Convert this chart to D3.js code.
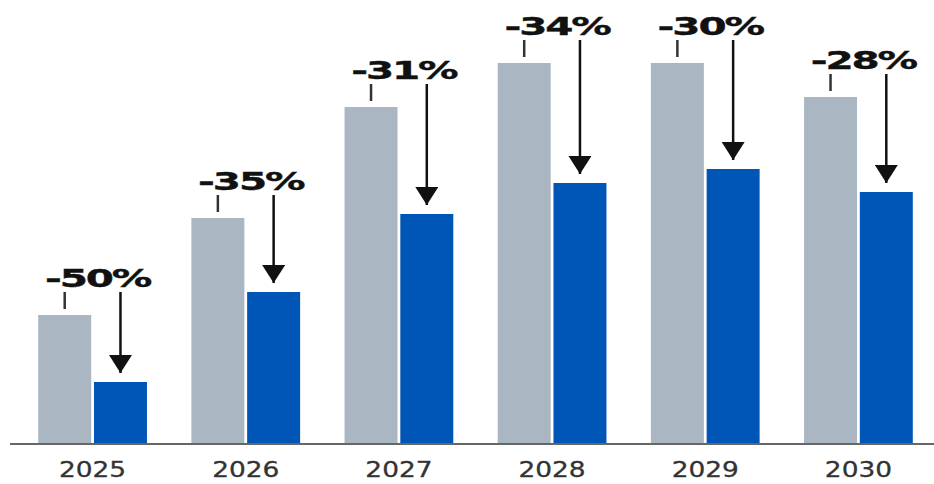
<!DOCTYPE html>
<html>
<head>
<meta charset="utf-8">
<script src="https://cdn.jsdelivr.net/npm/d3@7"></script>
<style>
  html, body { margin: 0; padding: 0; background: #fff; }
  svg { display: block; }
</style>
</head>
<body>
<svg id="chart" width="934" height="484"></svg>
<script>
// ---- data ----
const years = ["2025", "2026", "2027", "2028", "2029", "2030"];
const baseValues = [128, 225, 336, 380, 380, 346];     // grey bars
const reducedValues = [61, 151, 229, 260, 274, 251];   // blue bars
const changeLabels = ["-50%", "-35%", "-31%", "-34%", "-30%", "-28%"];

const rows = years.map((y, i) => ({
  year: y, base: baseValues[i], reduced: reducedValues[i], label: changeLabels[i]
}));

const W = 934, H = 484;
const baseY = 443;
const svg = d3.select("#chart");

const x = d3.scaleBand().domain(years).range([16, 935]).paddingInner(0.29).paddingOuter(0.145);
const xi = d3.scaleBand().domain(["base", "reduced"]).range([0, x.bandwidth()]).paddingInner(0.05);
const y = d3.scaleLinear().domain([0, 400]).range([baseY, baseY - 400]);

const GREY = "#aab7c3", BLUE = "#0056b6";

// defs: arrow head
svg.append("defs").append("marker")
  .attr("id", "head").attr("viewBox", "0 0 10 10")
  .attr("refX", 10).attr("refY", 5)
  .attr("markerWidth", 18).attr("markerHeight", 23)
  .attr("markerUnits", "userSpaceOnUse")
  .attr("orient", "auto")
  .attr("preserveAspectRatio", "none")
  .append("path").attr("d", "M0,0 L10,5 L0,10 Z").attr("fill", "#111");

const g = svg.selectAll("g.grp").data(rows).join("g")
  .attr("class", "grp")
  .attr("transform", d => `translate(${x(d.year)},0)`);

g.append("rect")
  .attr("x", xi("base")).attr("width", xi.bandwidth())
  .attr("y", d => y(d.base)).attr("height", d => y(0) - y(d.base))
  .attr("fill", GREY);

g.append("rect")
  .attr("x", xi("reduced")).attr("width", xi.bandwidth())
  .attr("y", d => y(d.reduced)).attr("height", d => y(0) - y(d.reduced))
  .attr("fill", BLUE);

// small tick above grey bar
g.append("line")
  .attr("x1", xi("base") + xi.bandwidth() / 2).attr("x2", xi("base") + xi.bandwidth() / 2)
  .attr("y1", d => y(d.base) - 23).attr("y2", d => y(d.base) - 6)
  .attr("stroke", "#333").attr("stroke-width", 2.5);

// arrow down to blue bar
g.append("line")
  .attr("x1", xi("reduced") + xi.bandwidth() / 2).attr("x2", xi("reduced") + xi.bandwidth() / 2)
  .attr("y1", d => y(d.base) - 23).attr("y2", d => y(d.reduced) - 9)
  .attr("stroke", "#111").attr("stroke-width", 2.5)
  .attr("marker-end", "url(#head)");

// percentage labels (horizontally stretched like the reference)
g.append("text")
  .attr("transform", d => `translate(${x.bandwidth() / 2 + 5},${y(d.base) - 28}) scale(1.62,1)`)
  .attr("text-anchor", "middle")
  .attr("font-family", "DejaVu Sans, Verdana, sans-serif")
  .attr("font-weight", "bold")
  .attr("font-size", 25)
  .attr("letter-spacing", -1.3)
  .attr("fill", "#111")
  .attr("stroke", "#111")
  .attr("stroke-width", 0.4)
  .text(d => d.label);

// baseline axis
const axis = d3.axisBottom(x).tickSize(0).tickPadding(0);
const ax = svg.append("g").attr("transform", `translate(0,${baseY})`).call(axis);
ax.select(".domain").remove();
ax.selectAll(".tick text")
  .attr("y", null).attr("dy", null)
  .attr("transform", "translate(0,34) scale(1.2,1)")
  .attr("font-family", "DejaVu Sans, sans-serif")
  .attr("font-size", 22)
  .attr("fill", "#333")
  .attr("stroke", "#333")
  .attr("stroke-width", 0.3);

svg.append("line")
  .attr("x1", 10).attr("x2", W)
  .attr("y1", baseY + 1).attr("y2", baseY + 1)
  .attr("stroke", "#666").attr("stroke-width", 2);
</script>
</body>
</html>
